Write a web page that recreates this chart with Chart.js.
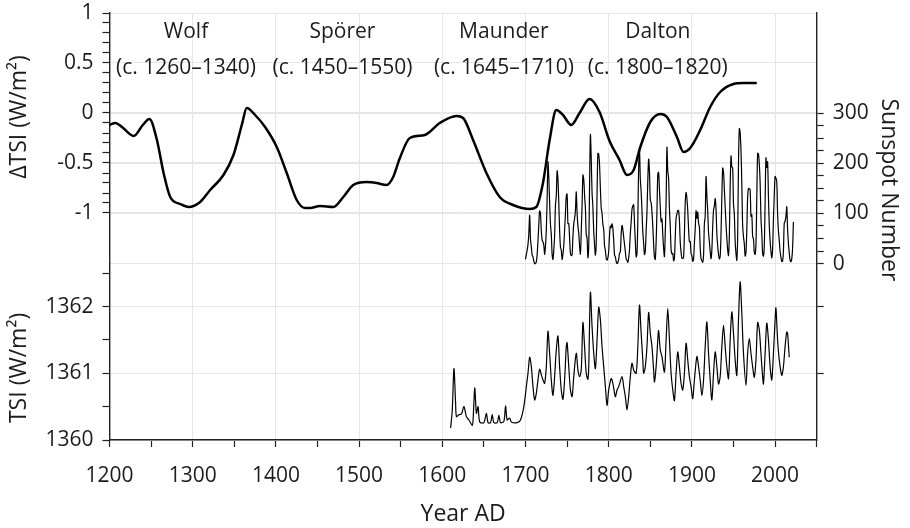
<!DOCTYPE html>
<html>
<head>
<meta charset="utf-8">
<title>Solar activity minima</title>
<script src="https://cdn.jsdelivr.net/npm/chart.js@4.4.1/dist/chart.umd.min.js"></script>
<style>
  html, body { margin: 0; padding: 0; background: #fff; }
  #wrap { width: 910px; height: 528px; }
</style>
</head>
<body>
<div id="wrap"><canvas id="chart" width="910" height="528"></canvas></div>
<script>
// Reconstructed change in total solar irradiance (top panel, W/m2)
const deltaYears = [1200, 1207, 1215, 1229, 1240, 1248, 1257, 1265, 1273, 1285, 1295, 1309, 1321, 1337, 1349,
  1359, 1365, 1375, 1387, 1401, 1413, 1425, 1435, 1441, 1453, 1469, 1481, 1493, 1509, 1521, 1533, 1541, 1549,
  1561, 1579, 1597, 1617, 1625, 1637, 1653, 1669, 1685, 1705, 1713, 1721, 1729, 1737, 1745, 1755, 1765, 1777,
  1789, 1801, 1813, 1822, 1830, 1838, 1850, 1862, 1870, 1882, 1890, 1898, 1910, 1922, 1934, 1950, 1962, 1978];
const deltaTsi = [-0.12, -0.10, -0.14, -0.23, -0.12, -0.06, -0.27, -0.60, -0.84, -0.91, -0.94, -0.89, -0.77, -0.62, -0.42,
  -0.12, 0.05, -0.02, -0.14, -0.34, -0.60, -0.87, -0.95, -0.95, -0.93, -0.94, -0.84, -0.72, -0.69, -0.70, -0.72, -0.64, -0.45,
  -0.25, -0.22, -0.10, -0.03, -0.05, -0.27, -0.60, -0.84, -0.92, -0.96, -0.94, -0.70, -0.27, 0.03, -0.02, -0.12, 0.00, 0.14,
  0.01, -0.28, -0.47, -0.62, -0.57, -0.34, -0.09, -0.01, -0.04, -0.24, -0.39, -0.35, -0.17, 0.06, 0.21, 0.29, 0.30, 0.30];

// Yearly sunspot number, 1700 onwards (right axis)
const sunspotFirstYear = 1700;
const sunspots = [
  8.3, 18.3, 26.7, 38.3, 60.0, 96.7, 48.3, 33.3, 16.7, 13.3,
  5.0, 0.0, 0.0, 3.3, 18.3, 45.0, 78.3, 105.0, 100.0, 65.0,
  46.7, 43.3, 36.7, 18.3, 35.0, 66.7, 130.0, 203.3, 171.7, 121.7,
  78.3, 58.3, 18.3, 8.3, 26.7, 56.7, 116.7, 135.0, 185.0, 168.3,
  121.7, 66.7, 33.3, 26.7, 8.3, 18.3, 36.7, 66.7, 100.0, 134.8,
  139.0, 79.5, 79.7, 51.2, 20.3, 16.0, 17.0, 54.0, 79.3, 90.0,
  104.8, 143.2, 102.0, 75.2, 60.7, 34.8, 19.0, 63.0, 116.3, 176.8,
  168.0, 136.0, 110.8, 58.0, 51.0, 11.7, 33.0, 154.2, 257.3, 209.8,
  141.3, 113.5, 64.2, 38.0, 17.0, 40.2, 138.2, 220.0, 218.2, 196.8,
  149.8, 111.0, 100.0, 78.2, 68.3, 35.5, 26.7, 10.7, 6.8, 11.3,
  24.2, 56.7, 75.0, 71.8, 79.2, 70.3, 46.8, 16.8, 13.5, 4.2,
  0.0, 2.3, 8.3, 20.3, 23.2, 59.0, 76.3, 68.3, 52.9, 38.5,
  24.2, 9.2, 6.3, 2.2, 11.4, 28.2, 59.9, 83.0, 108.5, 115.2,
  117.4, 80.8, 44.3, 13.4, 19.5, 85.8, 192.7, 227.3, 168.7, 143.0,
  105.5, 63.3, 40.3, 18.1, 25.1, 65.8, 102.7, 166.3, 208.3, 182.5,
  126.3, 122.0, 102.7, 74.1, 39.0, 12.7, 8.2, 43.4, 104.4, 178.3,
  182.2, 146.6, 112.1, 83.5, 89.2, 57.8, 30.7, 13.9, 62.8, 123.6,
  232.0, 185.3, 169.2, 110.1, 74.5, 28.3, 18.9, 20.7, 5.7, 10.0,
  53.7, 90.5, 99.0, 106.1, 105.8, 86.3, 42.4, 21.8, 11.2, 10.4,
  11.8, 59.5, 121.7, 142.0, 130.0, 106.6, 69.4, 43.8, 44.4, 20.2,
  15.7, 4.6, 8.5, 40.8, 70.1, 105.5, 90.1, 102.8, 80.9, 73.2,
  30.9, 9.5, 6.0, 2.4, 16.1, 79.0, 95.0, 173.6, 134.6, 105.7,
  62.7, 43.5, 23.7, 9.7, 27.9, 74.0, 106.5, 114.7, 129.7, 108.2,
  59.4, 35.1, 18.6, 9.2, 14.6, 60.2, 132.8, 190.6, 182.6, 148.0,
  113.0, 79.2, 50.8, 27.1, 16.1, 55.3, 154.3, 214.7, 193.0, 190.7,
  118.9, 98.3, 45.0, 20.1, 6.6, 54.2, 200.7, 269.3, 261.7, 225.1,
  159.0, 76.4, 53.4, 39.9, 15.0, 22.0, 66.8, 132.9, 150.0, 149.4,
  148.0, 94.4, 97.6, 54.1, 49.2, 22.5, 18.4, 39.3, 131.0, 220.1,
  218.9, 198.9, 162.4, 91.0, 60.5, 20.6, 14.8, 33.9, 123.0, 211.1,
  191.8, 203.3, 133.0, 76.1, 44.9, 25.1, 11.6, 28.9, 88.3, 136.3,
  173.9, 170.4, 163.6, 99.3, 65.3, 45.8, 24.7, 12.6, 4.2, 4.8,
  24.9, 80.8, 84.5, 94.0, 113.3, 69.8, 39.8, 21.7, 7.0, 3.6,
  8.8, 29.6, 83.2];

// Reconstructed total solar irradiance (bottom panel, W/m2)
const tsiYears = [1610, 1612, 1614, 1616, 1617, 1620, 1623, 1626, 1629, 1632, 1636, 1637, 1639, 1641, 1643, 1645,
  1650, 1653, 1655, 1658, 1660, 1662, 1666, 1668, 1670, 1674, 1676, 1678, 1681, 1683, 1690, 1694, 1698,
  1701, 1703, 1705, 1707, 1709, 1711, 1713, 1715, 1717, 1719, 1721, 1723, 1725, 1727, 1729, 1731, 1733,
  1735, 1737, 1739, 1741, 1743, 1745, 1747, 1749, 1750, 1752, 1754, 1756, 1758, 1761, 1763, 1765, 1767,
  1769, 1771, 1773, 1775, 1776, 1778, 1780, 1782, 1784, 1786, 1788, 1790, 1792, 1794, 1796, 1798, 1800,
  1803, 1805, 1808, 1810, 1812, 1816, 1818, 1820, 1822, 1824, 1826, 1828, 1830, 1833, 1835, 1837, 1839,
  1841, 1842, 1844, 1846, 1848, 1850, 1852, 1854, 1855, 1857, 1859, 1860, 1862, 1864, 1867, 1869, 1871,
  1873, 1875, 1877, 1879, 1881, 1883, 1885, 1887, 1889, 1891, 1893, 1895, 1897, 1899, 1901, 1903, 1906,
  1908, 1910, 1912, 1914, 1916, 1918, 1920, 1922, 1924, 1926, 1928, 1930, 1932, 1934, 1936, 1938, 1940,
  1942, 1944, 1946, 1948, 1950, 1952, 1954, 1956, 1958, 1960, 1962, 1965, 1967, 1969, 1971, 1973, 1975,
  1977, 1979, 1981, 1983, 1985, 1986, 1988, 1990, 1992, 1994, 1996, 1998, 2000, 2001, 2003, 2005, 2008,
  2010, 2012, 2014, 2015, 2017];
const tsiValues = [1360.18, 1360.45, 1361.07, 1360.55, 1360.35, 1360.38, 1360.39, 1360.50, 1360.35, 1360.30, 1360.22, 1360.30, 1360.78, 1360.40, 1360.50, 1360.27,
  1360.26, 1360.40, 1360.26, 1360.26, 1360.38, 1360.26, 1360.26, 1360.37, 1360.26, 1360.28, 1360.51, 1360.30, 1360.33, 1360.27, 1360.26, 1360.30, 1360.50,
  1360.80, 1361.00, 1361.24, 1361.10, 1360.80, 1360.60, 1360.70, 1360.90, 1361.06, 1360.98, 1360.90, 1360.85, 1361.10, 1361.63, 1361.30, 1360.90, 1360.67,
  1360.95, 1361.35, 1361.56, 1361.10, 1360.75, 1360.61, 1360.90, 1361.40, 1361.46, 1361.10, 1360.75, 1360.65, 1360.95, 1361.30, 1361.05, 1360.95, 1361.05,
  1361.76, 1361.40, 1361.00, 1360.91, 1361.10, 1362.21, 1361.70, 1361.30, 1361.07, 1361.50, 1361.99, 1361.80, 1361.40, 1361.10, 1360.80, 1360.52, 1360.75,
  1360.92, 1360.85, 1360.65, 1360.75, 1360.80, 1360.95, 1360.80, 1360.65, 1360.45, 1360.65, 1360.95, 1361.15, 1361.05, 1361.00, 1361.40, 1362.02, 1361.60,
  1361.20, 1361.00, 1361.10, 1361.40, 1361.91, 1361.60, 1361.40, 1361.05, 1360.87, 1361.10, 1361.50, 1361.64, 1361.35, 1361.25, 1361.02, 1361.50, 1361.97,
  1361.50, 1361.00, 1360.75, 1360.59, 1361.00, 1361.32, 1361.10, 1360.85, 1360.75, 1361.00, 1361.45, 1361.20, 1360.95, 1360.80, 1360.62, 1360.90, 1361.25,
  1361.10, 1360.90, 1360.67, 1360.90, 1361.40, 1361.77, 1361.30, 1360.90, 1360.60, 1361.00, 1361.32, 1361.10, 1360.84, 1360.95, 1361.40, 1361.72, 1361.40,
  1361.10, 1360.92, 1361.50, 1361.92, 1361.60, 1361.20, 1360.97, 1361.80, 1362.37, 1361.90, 1361.30, 1360.82, 1361.30, 1361.52, 1361.30, 1361.10, 1360.94,
  1361.20, 1361.76, 1361.65, 1361.30, 1360.95, 1360.84, 1361.30, 1361.75, 1361.50, 1361.10, 1360.90, 1361.30, 1361.80, 1361.98, 1361.50, 1361.20, 1360.97,
  1361.10, 1361.40, 1361.62, 1361.60, 1361.24];

// Grand minima labels
const minimaNames = ['Wolf', 'Spörer', 'Maunder', 'Dalton'];
const minimaSpans = ['(c. 1260–1340)', '(c. 1450–1550)', '(c. 1645–1710)', '(c. 1800–1820)'];
const minimaCentres = [1292, 1480, 1674, 1859];

// Axis ranges: the three y scales share one plot area
const X_MIN = 1200, X_MAX = 2050;
const DTSI_MIN = -3.27, DTSI_MAX = 1;
const TSI_MIN = 1360, TSI_MAX = 1366.4;
const SSN_MIN = -352, SSN_MAX = 500;

const FONT = '"Open Sans", "Noto Sans", sans-serif';
const INK = '#1c1c1c';
const GRID = '#e6e6e6';
const CLEAR = 'rgba(0,0,0,0)';

Chart.defaults.font.family = FONT;
Chart.defaults.color = INK;

// TSI value expressed in the units of another full-height scale
function tsiTo(min, max, v) {
    return min + (v - TSI_MIN) * (max - min) / (TSI_MAX - TSI_MIN);
}

function leftTicks(scale) {
    const ticks = [];
    for (let i = 10; i >= -10; i--) {
        ticks.push({ value: i / 10, txt: i % 5 === 0 ? String(i / 10) : '' });
    }
    [1360, 1360.5, 1361, 1361.5, 1362, 1362.5].forEach((v) => {
        ticks.push({ value: tsiTo(DTSI_MIN, DTSI_MAX, v), txt: v % 1 === 0 ? String(v) : '' });
    });
    scale.ticks = ticks;
}

function rightTicks(scale) {
    const ticks = [];
    for (let v = 0; v <= 300; v += 25) {
        ticks.push({ value: v, txt: v % 100 === 0 ? String(v) : '' });
    }
    [1361, 1362].forEach((v) => {
        ticks.push({ value: tsiTo(SSN_MIN, SSN_MAX, v), txt: '' });
    });
    scale.ticks = ticks;
}

// fixed axis sizes, and no label overflow padding so the plot area stays put
function fixWidth(w) {
    return (s) => {
        s.width = w;
        s.paddingTop = 0;
        s.paddingBottom = 0;
    };
}

function rotated(ctx, text, x, y, angle) {
    ctx.save();
    ctx.translate(x, y);
    ctx.rotate(angle);
    ctx.fillText(text, 0, 0);
    ctx.restore();
}

const labelsPlugin = {
    id: 'labelsPlugin',
    afterDraw(chart) {
        const { ctx, scales } = chart;
        ctx.save();
        ctx.fillStyle = INK;
        ctx.textAlign = 'center';
        ctx.textBaseline = 'middle';
        ctx.font = `21px ${FONT}`;
        minimaNames.forEach((name, i) => {
            const x = scales.x.getPixelForValue(minimaCentres[i]);
            ctx.fillText(name, x, scales.yL.getPixelForValue(0.81));
            ctx.fillText(minimaSpans[i], x, scales.yL.getPixelForValue(0.45));
        });
        ctx.font = `23px ${FONT}`;
        rotated(ctx, 'ΔTSI (W/m²)', 19, scales.yL.getPixelForValue(-0.04), -Math.PI / 2);
        rotated(ctx, 'TSI (W/m²)', 19, scales.yT.getPixelForValue(1361.08), -Math.PI / 2);
        rotated(ctx, 'Sunspot Number', 889, scales.yR.getPixelForValue(147), Math.PI / 2);
        ctx.restore();
    },
};

const deltaData = deltaYears.map((x, i) => ({ x, y: deltaTsi[i] }));
const sunspotData = sunspots.map((y, i) => ({ x: sunspotFirstYear + i, y }));
const tsiData = tsiYears.map((x, i) => ({ x, y: tsiValues[i] }));

const tickFont = { size: 21 };
const border = { display: true, color: '#222', width: 1.4 };

new Chart(document.getElementById('chart').getContext('2d'), {
    type: 'line',
    data: {
        datasets: [
            {
                label: 'ΔTSI',
                data: deltaData,
                yAxisID: 'yL',
                borderColor: '#000',
                borderWidth: 2.5,
                pointRadius: 0,
                cubicInterpolationMode: 'monotone',
            },
            {
                label: 'Sunspot number',
                data: sunspotData,
                yAxisID: 'yR',
                borderColor: '#000',
                borderWidth: 1.2,
                pointRadius: 0,
                tension: 0.3,
            },
            {
                label: 'TSI',
                data: tsiData,
                yAxisID: 'yT',
                borderColor: '#000',
                borderWidth: 1.2,
                pointRadius: 0,
                tension: 0.3,
            },
        ],
    },
    options: {
        responsive: false,
        animation: false,
        layout: { autoPadding: false, padding: { top: 13, left: 0, right: 0, bottom: 0 } },
        plugins: {
            legend: { display: false },
            tooltip: { enabled: false },
        },
        scales: {
            x: {
                type: 'linear',
                min: X_MIN,
                max: X_MAX,
                afterFit: (s) => {
                    s.height = 88;
                    s.paddingLeft = 0;
                    s.paddingRight = 0;
                },
                border,
                grid: {
                    color: (c) => (c.tick && c.tick.value % 100 === 0 && c.tick.value > X_MIN && c.tick.value < X_MAX ? GRID : CLEAR),
                    tickColor: '#222',
                    tickLength: 7,
                    tickWidth: 1.2,
                },
                ticks: {
                    stepSize: 50,
                    autoSkip: false,
                    maxRotation: 0,
                    padding: 16,
                    font: tickFont,
                    callback: (v) => (v % 100 === 0 && v < X_MAX ? String(v) : ''),
                },
                title: {
                    display: true,
                    text: 'Year AD',
                    font: { size: 23 },
                    padding: { top: 0, bottom: 0 },
                },
            },
            yL: {
                type: 'linear',
                position: 'left',
                min: DTSI_MIN,
                max: DTSI_MAX,
                afterBuildTicks: leftTicks,
                afterFit: fixWidth(109.5),
                border,
                grid: {
                    color: (c) => (c.tick && c.tick.txt ? GRID : CLEAR),
                    tickColor: '#222',
                    tickLength: 7,
                    tickWidth: 1.2,
                },
                ticks: {
                    autoSkip: false,
                    padding: 9,
                    font: tickFont,
                    callback: (v, i, ticks) => ticks[i].txt,
                },
            },
            yR: {
                type: 'linear',
                position: 'right',
                min: SSN_MIN,
                max: SSN_MAX,
                afterBuildTicks: rightTicks,
                afterFit: fixWidth(93.3),
                border,
                grid: {
                    color: (c) => (c.tick && c.tick.txt ? GRID : CLEAR),
                    tickColor: '#222',
                    tickLength: 7,
                    tickWidth: 1.2,
                },
                ticks: {
                    autoSkip: false,
                    padding: 9,
                    font: tickFont,
                    callback: (v, i, ticks) => ticks[i].txt,
                },
            },
            yT: {
                type: 'linear',
                display: false,
                min: TSI_MIN,
                max: TSI_MAX,
            },
        },
    },
    plugins: [labelsPlugin],
});
</script>
</body>
</html>
